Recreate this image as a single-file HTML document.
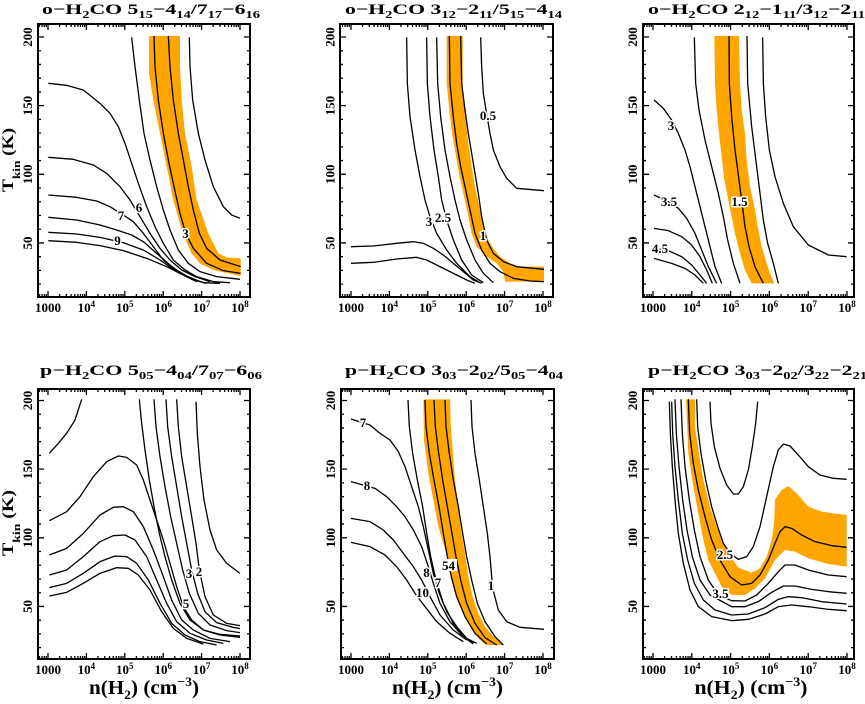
<!DOCTYPE html>
<html><head><meta charset="utf-8"><style>
html,body{margin:0;padding:0;background:#fff;}
svg{display:block;}
text{font-family:"Liberation Serif",serif;font-weight:bold;fill:#000;}
.t{font-size:15px;}
.s{font-size:10px;}
.tk{font-size:13px;}
.lb{font-size:13px;paint-order:stroke;stroke:#fff;stroke-width:3px;stroke-linejoin:round;}
.cv polyline{fill:none;stroke:#000;stroke-width:1.3;vector-effect:non-scaling-stroke;stroke-linejoin:round;}
.band{fill:#FFA500;stroke:none;}
.tx{fill:none;stroke:#000;stroke-width:1.3;}
</style></head><body>
<svg width="865" height="704" viewBox="0 0 865 704" xmlns="http://www.w3.org/2000/svg">

<!-- ================= PANEL 1 ================= -->
<g class="cv" transform="translate(0,0) scale(0.333333)">
<polygon class="band" points="447,108 447,220 460,300 480,400 500,500 520,600 548,700 575,760 600,790 640,810 722,828 722,775 680,772 655,760 625,700 590,600 575,500 555,400 545,300 540,200 540,108"/>
<polyline points="462,108 465,200 475,300 490,400 505,480 522,560 540,640 557,700 580,745 620,790 670,812 722,820"/>
<polyline points="505,108 510,200 520,300 535,400 550,480 565,560 580,630 598,700 620,745 660,780 722,800"/>
<polyline points="395,112 405,200 418,300 432,400 450,480 470,560 490,630 510,690 535,750 565,790 600,815 650,830 720,838"/>
<polyline points="568,112 570,200 578,300 595,400 615,480 640,560 670,620 695,645 720,655"/>
<polyline points="145,250 200,256 250,270 300,310 330,340 355,380 375,430 395,490 415,550 440,620 465,680 490,730 520,780 555,810 590,830 640,845 690,848"/>
<polyline points="145,472 220,478 280,495 320,520 360,560 390,600 420,650 450,700 480,745 510,780 545,810 585,830 630,845"/>
<polyline points="145,585 230,592 290,603 330,620 370,645 400,665 430,700 460,740 490,780 520,805 560,828 600,845"/>
<polyline points="145,652 230,660 300,675 350,690 395,705 430,725 470,760 510,795 550,825 590,845"/>
<polyline points="145,697 230,702 300,712 370,728 430,750 480,780 530,815 580,840 620,850"/>
<polyline points="145,722 230,727 300,737 370,752 440,775 500,800 560,830 610,848 660,850"/>
</g>
<text class="lb" x="139" y="212" text-anchor="middle">6</text>
<text class="lb" x="121" y="220" text-anchor="middle">7</text>
<text class="lb" x="117.5" y="245" text-anchor="middle">9</text>
<text class="lb" x="185.5" y="238" text-anchor="middle">3</text>
<path class="tx" transform="translate(48,297)" d="M-8.52 0v-3M-5.95 0v-3M-3.72 0v-3M-1.76 0v-3M0 0v-6M11.56 0v-3M18.32 0v-3M23.12 0v-3M26.84 0v-3M29.88 0v-3M32.45 0v-3M34.68 0v-3M36.64 0v-3M38.4 0v-6M49.96 0v-3M56.72 0v-3M61.52 0v-3M65.24 0v-3M68.28 0v-3M70.85 0v-3M73.08 0v-3M75.04 0v-3M76.8 0v-6M88.36 0v-3M95.12 0v-3M99.92 0v-3M103.64 0v-3M106.68 0v-3M109.25 0v-3M111.48 0v-3M113.44 0v-3M115.2 0v-6M126.76 0v-3M133.52 0v-3M138.32 0v-3M142.04 0v-3M145.08 0v-3M147.65 0v-3M149.88 0v-3M151.84 0v-3M153.6 0v-6M165.16 0v-3M171.92 0v-3M176.72 0v-3M180.44 0v-3M183.48 0v-3M186.05 0v-3M188.28 0v-3M190.24 0v-3M192 0v-6"/>
<path class="tx" transform="translate(48,24) scale(1,-1)" d="M-8.52 0v-3M-5.95 0v-3M-3.72 0v-3M-1.76 0v-3M0 0v-6M11.56 0v-3M18.32 0v-3M23.12 0v-3M26.84 0v-3M29.88 0v-3M32.45 0v-3M34.68 0v-3M36.64 0v-3M38.4 0v-6M49.96 0v-3M56.72 0v-3M61.52 0v-3M65.24 0v-3M68.28 0v-3M70.85 0v-3M73.08 0v-3M75.04 0v-3M76.8 0v-6M88.36 0v-3M95.12 0v-3M99.92 0v-3M103.64 0v-3M106.68 0v-3M109.25 0v-3M111.48 0v-3M113.44 0v-3M115.2 0v-6M126.76 0v-3M133.52 0v-3M138.32 0v-3M142.04 0v-3M145.08 0v-3M147.65 0v-3M149.88 0v-3M151.84 0v-3M153.6 0v-6M165.16 0v-3M171.92 0v-3M176.72 0v-3M180.44 0v-3M183.48 0v-3M186.05 0v-3M188.28 0v-3M190.24 0v-3M192 0v-6"/>
<path class="tx" transform="translate(38,37)" d="M0 0h6M0 13.73h3M0 27.46h3M0 41.19h3M0 54.92h3M0 68.65h6M0 82.38h3M0 96.11h3M0 109.84h3M0 123.57h3M0 137.3h6M0 151.03h3M0 164.76h3M0 178.49h3M0 192.22h3M0 205.95h6M0 219.68h3M0 233.41h3M0 247.14h3"/>
<path class="tx" transform="translate(250,37) scale(-1,1)" d="M0 0h6M0 13.73h3M0 27.46h3M0 41.19h3M0 54.92h3M0 68.65h6M0 82.38h3M0 96.11h3M0 109.84h3M0 123.57h3M0 137.3h6M0 151.03h3M0 164.76h3M0 178.49h3M0 192.22h3M0 205.95h6M0 219.68h3M0 233.41h3M0 247.14h3"/>
<rect x="38" y="24" width="212" height="273" fill="none" stroke="#000" stroke-width="2"/>
<text class="t" x="42" y="14" textLength="218" lengthAdjust="spacingAndGlyphs">o−H<tspan class="s" dy="4">2</tspan><tspan dy="-4">CO 5</tspan><tspan class="s" dy="4">15</tspan><tspan dy="-4">−4</tspan><tspan class="s" dy="4">14</tspan><tspan dy="-4">/7</tspan><tspan class="s" dy="4">17</tspan><tspan dy="-4">−6</tspan><tspan class="s" dy="4">16</tspan></text>
<text class="tk" x="48" y="312" text-anchor="middle">1000</text>
<text class="tk" x="86.4" y="312" text-anchor="middle">10<tspan dy="-5" font-size="9">4</tspan></text>
<text class="tk" x="124.8" y="312" text-anchor="middle">10<tspan dy="-5" font-size="9">5</tspan></text>
<text class="tk" x="163.2" y="312" text-anchor="middle">10<tspan dy="-5" font-size="9">6</tspan></text>
<text class="tk" x="201.6" y="312" text-anchor="middle">10<tspan dy="-5" font-size="9">7</tspan></text>
<text class="tk" x="240" y="312" text-anchor="middle">10<tspan dy="-5" font-size="9">8</tspan></text>
<text class="tk" transform="translate(32,37) rotate(-90)" text-anchor="middle">200</text>
<text class="tk" transform="translate(32,105.6) rotate(-90)" text-anchor="middle">150</text>
<text class="tk" transform="translate(32,174.3) rotate(-90)" text-anchor="middle">100</text>
<text class="tk" transform="translate(32,243) rotate(-90)" text-anchor="middle">50</text>
<text transform="translate(13,160) rotate(-90)" text-anchor="middle" font-size="16" textLength="64" lengthAdjust="spacingAndGlyphs">T<tspan dy="7" font-size="11">kin</tspan><tspan dy="-7"> (K)</tspan></text>

<!-- ================= PANEL 2 ================= -->
<g class="cv" transform="translate(290,0) scale(0.333333)">
<polygon class="band" points="470,108 470,250 478,330 486,400 495,450 505,510 520,580 535,650 545,700 560,740 590,770 620,790 640,815 645,845 762,845 762,800 690,800 660,790 630,770 610,745 595,720 580,680 570,630 555,560 545,500 535,430 528,360 520,300 518,250 518,108"/>
<polyline points="478,108 480,250 490,350 500,430 512,500 525,560 540,630 555,700 575,750 600,790 630,815 670,835 720,843 762,845"/>
<polyline points="512,108 515,250 525,330 535,400 545,460 555,520 565,580 575,650 590,720 610,760 640,785 680,800 762,808"/>
<polyline points="572,112 575,200 580,280 588,330 600,400 610,450 630,500 650,535 680,565 762,572"/>
<polyline points="350,112 352,250 360,350 375,450 390,530 405,600 420,650 440,700 470,750 500,790 540,830 570,848"/>
<polyline points="410,112 412,250 420,350 432,450 445,530 455,600 470,660 490,720 515,780 545,825 580,848"/>
<polyline points="440,112 443,250 452,350 465,450 480,530 495,600 510,660 530,720 555,780 580,820 610,848"/>
<polyline points="183,740 250,738 320,730 370,725 400,730 430,745 460,765 490,790 520,815 550,840 575,850"/>
<polyline points="183,790 250,787 320,777 380,772 410,780 440,795 470,810 500,825 530,840 555,850"/>
</g>
<text class="lb" x="488" y="120" text-anchor="middle">0.5</text>
<text class="lb" x="429" y="226" text-anchor="middle">3</text>
<text class="lb" x="443" y="222" text-anchor="middle">2.5</text>
<text class="lb" x="483" y="240" text-anchor="middle">1</text>
<path class="tx" transform="translate(351,297)" d="M-8.52 0v-3M-5.95 0v-3M-3.72 0v-3M-1.76 0v-3M0 0v-6M11.56 0v-3M18.32 0v-3M23.12 0v-3M26.84 0v-3M29.88 0v-3M32.45 0v-3M34.68 0v-3M36.64 0v-3M38.4 0v-6M49.96 0v-3M56.72 0v-3M61.52 0v-3M65.24 0v-3M68.28 0v-3M70.85 0v-3M73.08 0v-3M75.04 0v-3M76.8 0v-6M88.36 0v-3M95.12 0v-3M99.92 0v-3M103.64 0v-3M106.68 0v-3M109.25 0v-3M111.48 0v-3M113.44 0v-3M115.2 0v-6M126.76 0v-3M133.52 0v-3M138.32 0v-3M142.04 0v-3M145.08 0v-3M147.65 0v-3M149.88 0v-3M151.84 0v-3M153.6 0v-6M165.16 0v-3M171.92 0v-3M176.72 0v-3M180.44 0v-3M183.48 0v-3M186.05 0v-3M188.28 0v-3M190.24 0v-3M192 0v-6"/>
<path class="tx" transform="translate(351,24) scale(1,-1)" d="M-8.52 0v-3M-5.95 0v-3M-3.72 0v-3M-1.76 0v-3M0 0v-6M11.56 0v-3M18.32 0v-3M23.12 0v-3M26.84 0v-3M29.88 0v-3M32.45 0v-3M34.68 0v-3M36.64 0v-3M38.4 0v-6M49.96 0v-3M56.72 0v-3M61.52 0v-3M65.24 0v-3M68.28 0v-3M70.85 0v-3M73.08 0v-3M75.04 0v-3M76.8 0v-6M88.36 0v-3M95.12 0v-3M99.92 0v-3M103.64 0v-3M106.68 0v-3M109.25 0v-3M111.48 0v-3M113.44 0v-3M115.2 0v-6M126.76 0v-3M133.52 0v-3M138.32 0v-3M142.04 0v-3M145.08 0v-3M147.65 0v-3M149.88 0v-3M151.84 0v-3M153.6 0v-6M165.16 0v-3M171.92 0v-3M176.72 0v-3M180.44 0v-3M183.48 0v-3M186.05 0v-3M188.28 0v-3M190.24 0v-3M192 0v-6"/>
<path class="tx" transform="translate(340,37)" d="M0 0h6M0 13.73h3M0 27.46h3M0 41.19h3M0 54.92h3M0 68.65h6M0 82.38h3M0 96.11h3M0 109.84h3M0 123.57h3M0 137.3h6M0 151.03h3M0 164.76h3M0 178.49h3M0 192.22h3M0 205.95h6M0 219.68h3M0 233.41h3M0 247.14h3"/>
<path class="tx" transform="translate(553,37) scale(-1,1)" d="M0 0h6M0 13.73h3M0 27.46h3M0 41.19h3M0 54.92h3M0 68.65h6M0 82.38h3M0 96.11h3M0 109.84h3M0 123.57h3M0 137.3h6M0 151.03h3M0 164.76h3M0 178.49h3M0 192.22h3M0 205.95h6M0 219.68h3M0 233.41h3M0 247.14h3"/>
<rect x="340" y="24" width="213" height="273" fill="none" stroke="#000" stroke-width="2"/>
<text class="t" x="345" y="14" textLength="217" lengthAdjust="spacingAndGlyphs">o−H<tspan class="s" dy="4">2</tspan><tspan dy="-4">CO 3</tspan><tspan class="s" dy="4">12</tspan><tspan dy="-4">−2</tspan><tspan class="s" dy="4">11</tspan><tspan dy="-4">/5</tspan><tspan class="s" dy="4">15</tspan><tspan dy="-4">−4</tspan><tspan class="s" dy="4">14</tspan></text>
<text class="tk" x="351" y="312" text-anchor="middle">1000</text>
<text class="tk" x="389.4" y="312" text-anchor="middle">10<tspan dy="-5" font-size="9">4</tspan></text>
<text class="tk" x="427.8" y="312" text-anchor="middle">10<tspan dy="-5" font-size="9">5</tspan></text>
<text class="tk" x="466.2" y="312" text-anchor="middle">10<tspan dy="-5" font-size="9">6</tspan></text>
<text class="tk" x="504.6" y="312" text-anchor="middle">10<tspan dy="-5" font-size="9">7</tspan></text>
<text class="tk" x="543" y="312" text-anchor="middle">10<tspan dy="-5" font-size="9">8</tspan></text>
<text class="tk" transform="translate(334.5,37) rotate(-90)" text-anchor="middle">200</text>
<text class="tk" transform="translate(334.5,105.6) rotate(-90)" text-anchor="middle">150</text>
<text class="tk" transform="translate(334.5,174.3) rotate(-90)" text-anchor="middle">100</text>
<text class="tk" transform="translate(334.5,243) rotate(-90)" text-anchor="middle">50</text>

<!-- ================= PANEL 3 ================= -->
<g class="cv" transform="translate(575,0) scale(0.333333)">
<polygon class="band" points="418,108 420,250 425,330 432,400 440,470 448,540 460,600 470,650 480,700 495,760 510,810 530,850 598,850 585,820 575,790 560,740 548,680 540,630 525,560 515,480 510,400 500,330 495,250 492,108"/>
<polyline points="462,108 463,250 470,350 480,450 492,540 500,600 510,680 522,740 540,800 565,850"/>
<polyline points="516,108 518,250 530,380 545,500 555,580 565,660 578,730 595,790 610,850"/>
<polyline points="358,112 362,250 372,330 390,420 410,500 430,580 445,650 458,720 475,790 495,850"/>
<polyline points="563,112 565,250 572,350 583,450 600,530 625,610 655,680 700,735 760,765 815,770"/>
<polyline points="237,300 265,325 290,360 310,400 330,450 345,500 360,560 375,620 390,680 405,740 420,800 440,850"/>
<polyline points="237,585 280,605 310,625 335,655 360,700 380,750 400,800 425,850"/>
<polyline points="237,685 280,692 320,710 350,735 375,770 395,810 412,850"/>
<polyline points="237,745 280,752 320,770 350,795 375,825 395,850"/>
<polyline points="237,775 290,790 330,805 360,825 385,850"/>
</g>
<rect x="731" y="197" width="17" height="10" fill="#fff"/>
<text class="lb" x="671" y="130" text-anchor="middle">3</text>
<text class="lb" x="669" y="206" text-anchor="middle">3.5</text>
<text class="lb" x="660" y="253" text-anchor="middle">4.5</text>
<text class="lb" x="739.5" y="206" text-anchor="middle">1.5</text>
<path class="tx" transform="translate(653,297) scale(1.0104,1)" d="M-8.52 0v-3M-5.95 0v-3M-3.72 0v-3M-1.76 0v-3M0 0v-6M11.56 0v-3M18.32 0v-3M23.12 0v-3M26.84 0v-3M29.88 0v-3M32.45 0v-3M34.68 0v-3M36.64 0v-3M38.4 0v-6M49.96 0v-3M56.72 0v-3M61.52 0v-3M65.24 0v-3M68.28 0v-3M70.85 0v-3M73.08 0v-3M75.04 0v-3M76.8 0v-6M88.36 0v-3M95.12 0v-3M99.92 0v-3M103.64 0v-3M106.68 0v-3M109.25 0v-3M111.48 0v-3M113.44 0v-3M115.2 0v-6M126.76 0v-3M133.52 0v-3M138.32 0v-3M142.04 0v-3M145.08 0v-3M147.65 0v-3M149.88 0v-3M151.84 0v-3M153.6 0v-6M165.16 0v-3M171.92 0v-3M176.72 0v-3M180.44 0v-3M183.48 0v-3M186.05 0v-3M188.28 0v-3M190.24 0v-3M192 0v-6"/>
<path class="tx" transform="translate(653,24) scale(1.0104,-1)" d="M-8.52 0v-3M-5.95 0v-3M-3.72 0v-3M-1.76 0v-3M0 0v-6M11.56 0v-3M18.32 0v-3M23.12 0v-3M26.84 0v-3M29.88 0v-3M32.45 0v-3M34.68 0v-3M36.64 0v-3M38.4 0v-6M49.96 0v-3M56.72 0v-3M61.52 0v-3M65.24 0v-3M68.28 0v-3M70.85 0v-3M73.08 0v-3M75.04 0v-3M76.8 0v-6M88.36 0v-3M95.12 0v-3M99.92 0v-3M103.64 0v-3M106.68 0v-3M109.25 0v-3M111.48 0v-3M113.44 0v-3M115.2 0v-6M126.76 0v-3M133.52 0v-3M138.32 0v-3M142.04 0v-3M145.08 0v-3M147.65 0v-3M149.88 0v-3M151.84 0v-3M153.6 0v-6M165.16 0v-3M171.92 0v-3M176.72 0v-3M180.44 0v-3M183.48 0v-3M186.05 0v-3M188.28 0v-3M190.24 0v-3M192 0v-6"/>
<path class="tx" transform="translate(643,37)" d="M0 0h6M0 13.73h3M0 27.46h3M0 41.19h3M0 54.92h3M0 68.65h6M0 82.38h3M0 96.11h3M0 109.84h3M0 123.57h3M0 137.3h6M0 151.03h3M0 164.76h3M0 178.49h3M0 192.22h3M0 205.95h6M0 219.68h3M0 233.41h3M0 247.14h3"/>
<path class="tx" transform="translate(854,37) scale(-1,1)" d="M0 0h6M0 13.73h3M0 27.46h3M0 41.19h3M0 54.92h3M0 68.65h6M0 82.38h3M0 96.11h3M0 109.84h3M0 123.57h3M0 137.3h6M0 151.03h3M0 164.76h3M0 178.49h3M0 192.22h3M0 205.95h6M0 219.68h3M0 233.41h3M0 247.14h3"/>
<rect x="643" y="24" width="211" height="273" fill="none" stroke="#000" stroke-width="2"/>
<text class="t" x="648" y="14" textLength="217" lengthAdjust="spacingAndGlyphs">o−H<tspan class="s" dy="4">2</tspan><tspan dy="-4">CO 2</tspan><tspan class="s" dy="4">12</tspan><tspan dy="-4">−1</tspan><tspan class="s" dy="4">11</tspan><tspan dy="-4">/3</tspan><tspan class="s" dy="4">12</tspan><tspan dy="-4">−2</tspan><tspan class="s" dy="4">11</tspan></text>
<text class="tk" x="653" y="312" text-anchor="middle">1000</text>
<text class="tk" x="691.8" y="312" text-anchor="middle">10<tspan dy="-5" font-size="9">4</tspan></text>
<text class="tk" x="730.6" y="312" text-anchor="middle">10<tspan dy="-5" font-size="9">5</tspan></text>
<text class="tk" x="769.4" y="312" text-anchor="middle">10<tspan dy="-5" font-size="9">6</tspan></text>
<text class="tk" x="808.2" y="312" text-anchor="middle">10<tspan dy="-5" font-size="9">7</tspan></text>
<text class="tk" x="847" y="312" text-anchor="middle">10<tspan dy="-5" font-size="9">8</tspan></text>
<text class="tk" transform="translate(637,37) rotate(-90)" text-anchor="middle">200</text>
<text class="tk" transform="translate(637,105.6) rotate(-90)" text-anchor="middle">150</text>
<text class="tk" transform="translate(637,174.3) rotate(-90)" text-anchor="middle">100</text>
<text class="tk" transform="translate(637,243) rotate(-90)" text-anchor="middle">50</text>

<!-- ================= PANEL 4 ================= -->
<g class="cv" transform="translate(0,340) scale(0.333333)">
<polyline points="148,340 175,310 200,280 225,240 245,178"/>
<polyline points="148,542 200,515 240,470 280,410 320,365 355,348 380,352 410,375 430,420 450,480 470,540 490,600 510,670 530,740 550,800 575,840 610,870 660,885 720,892"/>
<polyline points="148,645 200,625 250,580 300,525 340,502 370,500 400,515 430,560 460,630 490,710 515,780 545,840 580,870 630,895 690,905"/>
<polyline points="148,705 200,690 250,650 300,605 340,587 375,585 405,600 440,650 470,720 500,790 530,845 570,880 620,900 670,910"/>
<polyline points="148,743 200,730 250,700 300,665 345,648 380,650 410,670 445,720 480,790 515,850 555,885 600,905 650,915"/>
<polyline points="148,768 200,757 250,730 300,700 350,683 385,685 415,705 450,750 485,815 520,865 560,895 610,912"/>
<polyline points="418,178 425,250 435,330 448,420 462,500 478,580 495,650 515,720 540,790 570,840 610,870 660,883 720,888"/>
<polyline points="462,178 468,260 480,350 495,440 512,530 530,610 548,690 568,760 595,820 630,855 680,872 720,878"/>
<polyline points="498,178 503,260 515,350 530,440 545,530 560,610 575,690 593,760 615,815 650,848 700,862 720,866"/>
<polyline points="530,178 535,260 545,350 560,440 575,530 588,610 598,690 615,770 640,825 680,850 720,857"/>
<polyline points="588,185 592,280 600,380 612,480 630,570 650,630 680,670 720,700"/>
</g>
<text class="lb" x="189" y="578" text-anchor="middle">3</text>
<text class="lb" x="199" y="576" text-anchor="middle">2</text>
<text class="lb" x="186" y="608" text-anchor="middle">5</text>
<path class="tx" transform="translate(48,659)" d="M-8.52 0v-3M-5.95 0v-3M-3.72 0v-3M-1.76 0v-3M0 0v-6M11.56 0v-3M18.32 0v-3M23.12 0v-3M26.84 0v-3M29.88 0v-3M32.45 0v-3M34.68 0v-3M36.64 0v-3M38.4 0v-6M49.96 0v-3M56.72 0v-3M61.52 0v-3M65.24 0v-3M68.28 0v-3M70.85 0v-3M73.08 0v-3M75.04 0v-3M76.8 0v-6M88.36 0v-3M95.12 0v-3M99.92 0v-3M103.64 0v-3M106.68 0v-3M109.25 0v-3M111.48 0v-3M113.44 0v-3M115.2 0v-6M126.76 0v-3M133.52 0v-3M138.32 0v-3M142.04 0v-3M145.08 0v-3M147.65 0v-3M149.88 0v-3M151.84 0v-3M153.6 0v-6M165.16 0v-3M171.92 0v-3M176.72 0v-3M180.44 0v-3M183.48 0v-3M186.05 0v-3M188.28 0v-3M190.24 0v-3M192 0v-6"/>
<path class="tx" transform="translate(48,389) scale(1,-1)" d="M-8.52 0v-3M-5.95 0v-3M-3.72 0v-3M-1.76 0v-3M0 0v-6M11.56 0v-3M18.32 0v-3M23.12 0v-3M26.84 0v-3M29.88 0v-3M32.45 0v-3M34.68 0v-3M36.64 0v-3M38.4 0v-6M49.96 0v-3M56.72 0v-3M61.52 0v-3M65.24 0v-3M68.28 0v-3M70.85 0v-3M73.08 0v-3M75.04 0v-3M76.8 0v-6M88.36 0v-3M95.12 0v-3M99.92 0v-3M103.64 0v-3M106.68 0v-3M109.25 0v-3M111.48 0v-3M113.44 0v-3M115.2 0v-6M126.76 0v-3M133.52 0v-3M138.32 0v-3M142.04 0v-3M145.08 0v-3M147.65 0v-3M149.88 0v-3M151.84 0v-3M153.6 0v-6M165.16 0v-3M171.92 0v-3M176.72 0v-3M180.44 0v-3M183.48 0v-3M186.05 0v-3M188.28 0v-3M190.24 0v-3M192 0v-6"/>
<path class="tx" transform="translate(38,400.5)" d="M0 0h6M0 13.73h3M0 27.46h3M0 41.19h3M0 54.92h3M0 68.65h6M0 82.38h3M0 96.11h3M0 109.84h3M0 123.57h3M0 137.3h6M0 151.03h3M0 164.76h3M0 178.49h3M0 192.22h3M0 205.95h6M0 219.68h3M0 233.41h3M0 247.14h3"/>
<path class="tx" transform="translate(250,400.5) scale(-1,1)" d="M0 0h6M0 13.73h3M0 27.46h3M0 41.19h3M0 54.92h3M0 68.65h6M0 82.38h3M0 96.11h3M0 109.84h3M0 123.57h3M0 137.3h6M0 151.03h3M0 164.76h3M0 178.49h3M0 192.22h3M0 205.95h6M0 219.68h3M0 233.41h3M0 247.14h3"/>
<rect x="38" y="389" width="212" height="270" fill="none" stroke="#000" stroke-width="2"/>
<text class="t" x="40" y="375" textLength="222" lengthAdjust="spacingAndGlyphs">p−H<tspan class="s" dy="4">2</tspan><tspan dy="-4">CO 5</tspan><tspan class="s" dy="4">05</tspan><tspan dy="-4">−4</tspan><tspan class="s" dy="4">04</tspan><tspan dy="-4">/7</tspan><tspan class="s" dy="4">07</tspan><tspan dy="-4">−6</tspan><tspan class="s" dy="4">06</tspan></text>
<text class="tk" x="48" y="674" text-anchor="middle">1000</text>
<text class="tk" x="86.4" y="674" text-anchor="middle">10<tspan dy="-5" font-size="9">4</tspan></text>
<text class="tk" x="124.8" y="674" text-anchor="middle">10<tspan dy="-5" font-size="9">5</tspan></text>
<text class="tk" x="163.2" y="674" text-anchor="middle">10<tspan dy="-5" font-size="9">6</tspan></text>
<text class="tk" x="201.6" y="674" text-anchor="middle">10<tspan dy="-5" font-size="9">7</tspan></text>
<text class="tk" x="240" y="674" text-anchor="middle">10<tspan dy="-5" font-size="9">8</tspan></text>
<text class="tk" transform="translate(32,400.5) rotate(-90)" text-anchor="middle">200</text>
<text class="tk" transform="translate(32,469.2) rotate(-90)" text-anchor="middle">150</text>
<text class="tk" transform="translate(32,537.8) rotate(-90)" text-anchor="middle">100</text>
<text class="tk" transform="translate(32,606.5) rotate(-90)" text-anchor="middle">50</text>
<text transform="translate(13,523) rotate(-90)" text-anchor="middle" font-size="16" textLength="66" lengthAdjust="spacingAndGlyphs">T<tspan dy="7" font-size="11">kin</tspan><tspan dy="-7"> (K)</tspan></text>
<text x="144" y="694" text-anchor="middle" font-size="20" textLength="110" lengthAdjust="spacingAndGlyphs">n(H<tspan dy="5" font-size="13">2</tspan><tspan dy="-5">) (cm</tspan><tspan dy="-8" font-size="13">−3</tspan><tspan dy="8">)</tspan></text>

<!-- ================= PANEL 5 ================= -->
<g class="cv" transform="translate(290,340) scale(0.333333)">
<polygon class="band" points="400,178 402,300 415,400 430,480 445,560 460,610 475,665 480,700 495,760 515,810 540,860 570,900 590,915 640,915 610,890 585,860 565,820 548,770 535,710 525,640 515,580 505,500 495,420 488,330 482,250 480,178"/>
<polyline points="354,180 358,260 368,340 382,420 398,500 410,580 422,650 438,720 460,790 490,850 520,890 550,912"/>
<polyline points="405,180 408,260 418,340 432,420 447,500 460,580 472,650 484,710 500,770 525,830 555,880 590,912"/>
<polyline points="432,180 436,260 446,340 458,420 472,500 486,580 498,650 512,720 530,790 555,850 585,893 620,915"/>
<polyline points="465,180 468,260 478,340 490,420 505,500 518,580 530,650 545,720 562,790 585,845 615,890 640,915"/>
<polyline points="543,180 546,260 555,340 568,420 580,500 592,580 600,650 605,710 612,760 625,810 650,845 690,862 762,868"/>
<polyline points="183,237 240,255 270,280 300,300 325,335 345,380 365,440 385,500 400,560 415,630 430,700 448,760 470,815 500,860 530,895 560,910"/>
<polyline points="183,425 255,445 290,470 320,500 345,530 370,570 395,620 415,680 430,730 450,790 480,845 515,885 550,910"/>
<polyline points="183,535 240,545 280,570 310,600 340,640 370,680 395,720 420,770 450,825 490,870 530,900"/>
<polyline points="183,607 240,620 285,645 320,680 350,720 375,760 405,800 440,845 480,880 520,905"/>
</g>
<rect x="441" y="559" width="16" height="12" fill="#fff"/>
<text class="lb" x="363" y="427" text-anchor="middle">7</text>
<text class="lb" x="367" y="490" text-anchor="middle">8</text>
<text class="lb" x="426.5" y="577" text-anchor="middle">8</text>
<text class="lb" x="438" y="587" text-anchor="middle">7</text>
<text class="lb" x="422.5" y="597" text-anchor="middle">10</text>
<text class="lb" x="448.5" y="570" text-anchor="middle">54</text>
<text class="lb" x="491" y="590" text-anchor="middle">1</text>
<path class="tx" transform="translate(351,659)" d="M-8.52 0v-3M-5.95 0v-3M-3.72 0v-3M-1.76 0v-3M0 0v-6M11.56 0v-3M18.32 0v-3M23.12 0v-3M26.84 0v-3M29.88 0v-3M32.45 0v-3M34.68 0v-3M36.64 0v-3M38.4 0v-6M49.96 0v-3M56.72 0v-3M61.52 0v-3M65.24 0v-3M68.28 0v-3M70.85 0v-3M73.08 0v-3M75.04 0v-3M76.8 0v-6M88.36 0v-3M95.12 0v-3M99.92 0v-3M103.64 0v-3M106.68 0v-3M109.25 0v-3M111.48 0v-3M113.44 0v-3M115.2 0v-6M126.76 0v-3M133.52 0v-3M138.32 0v-3M142.04 0v-3M145.08 0v-3M147.65 0v-3M149.88 0v-3M151.84 0v-3M153.6 0v-6M165.16 0v-3M171.92 0v-3M176.72 0v-3M180.44 0v-3M183.48 0v-3M186.05 0v-3M188.28 0v-3M190.24 0v-3M192 0v-6"/>
<path class="tx" transform="translate(351,389) scale(1,-1)" d="M-8.52 0v-3M-5.95 0v-3M-3.72 0v-3M-1.76 0v-3M0 0v-6M11.56 0v-3M18.32 0v-3M23.12 0v-3M26.84 0v-3M29.88 0v-3M32.45 0v-3M34.68 0v-3M36.64 0v-3M38.4 0v-6M49.96 0v-3M56.72 0v-3M61.52 0v-3M65.24 0v-3M68.28 0v-3M70.85 0v-3M73.08 0v-3M75.04 0v-3M76.8 0v-6M88.36 0v-3M95.12 0v-3M99.92 0v-3M103.64 0v-3M106.68 0v-3M109.25 0v-3M111.48 0v-3M113.44 0v-3M115.2 0v-6M126.76 0v-3M133.52 0v-3M138.32 0v-3M142.04 0v-3M145.08 0v-3M147.65 0v-3M149.88 0v-3M151.84 0v-3M153.6 0v-6M165.16 0v-3M171.92 0v-3M176.72 0v-3M180.44 0v-3M183.48 0v-3M186.05 0v-3M188.28 0v-3M190.24 0v-3M192 0v-6"/>
<path class="tx" transform="translate(341,400.5)" d="M0 0h6M0 13.73h3M0 27.46h3M0 41.19h3M0 54.92h3M0 68.65h6M0 82.38h3M0 96.11h3M0 109.84h3M0 123.57h3M0 137.3h6M0 151.03h3M0 164.76h3M0 178.49h3M0 192.22h3M0 205.95h6M0 219.68h3M0 233.41h3M0 247.14h3"/>
<path class="tx" transform="translate(554,400.5) scale(-1,1)" d="M0 0h6M0 13.73h3M0 27.46h3M0 41.19h3M0 54.92h3M0 68.65h6M0 82.38h3M0 96.11h3M0 109.84h3M0 123.57h3M0 137.3h6M0 151.03h3M0 164.76h3M0 178.49h3M0 192.22h3M0 205.95h6M0 219.68h3M0 233.41h3M0 247.14h3"/>
<rect x="341" y="389" width="213" height="270" fill="none" stroke="#000" stroke-width="2"/>
<text class="t" x="345" y="375" textLength="218" lengthAdjust="spacingAndGlyphs">p−H<tspan class="s" dy="4">2</tspan><tspan dy="-4">CO 3</tspan><tspan class="s" dy="4">03</tspan><tspan dy="-4">−2</tspan><tspan class="s" dy="4">02</tspan><tspan dy="-4">/5</tspan><tspan class="s" dy="4">05</tspan><tspan dy="-4">−4</tspan><tspan class="s" dy="4">04</tspan></text>
<text class="tk" x="351" y="674" text-anchor="middle">1000</text>
<text class="tk" x="389.4" y="674" text-anchor="middle">10<tspan dy="-5" font-size="9">4</tspan></text>
<text class="tk" x="427.8" y="674" text-anchor="middle">10<tspan dy="-5" font-size="9">5</tspan></text>
<text class="tk" x="466.2" y="674" text-anchor="middle">10<tspan dy="-5" font-size="9">6</tspan></text>
<text class="tk" x="504.6" y="674" text-anchor="middle">10<tspan dy="-5" font-size="9">7</tspan></text>
<text class="tk" x="543" y="674" text-anchor="middle">10<tspan dy="-5" font-size="9">8</tspan></text>
<text class="tk" transform="translate(335,400.5) rotate(-90)" text-anchor="middle">200</text>
<text class="tk" transform="translate(335,469.2) rotate(-90)" text-anchor="middle">150</text>
<text class="tk" transform="translate(335,537.8) rotate(-90)" text-anchor="middle">100</text>
<text class="tk" transform="translate(335,606.5) rotate(-90)" text-anchor="middle">50</text>
<text x="447.5" y="694" text-anchor="middle" font-size="20" textLength="111" lengthAdjust="spacingAndGlyphs">n(H<tspan dy="5" font-size="13">2</tspan><tspan dy="-5">) (cm</tspan><tspan dy="-8" font-size="13">−3</tspan><tspan dy="8">)</tspan></text>

<!-- ================= PANEL 6 ================= -->
<g class="cv" transform="translate(575,340) scale(0.333333)">
<polygon class="band" points="360,178 360,260 372,340 385,420 405,500 425,560 440,600 460,640 490,683 530,698 555,685 575,650 590,600 598,540 600,478 620,450 640,438 665,460 700,500 740,515 775,520 815,525 815,680 760,672 700,655 660,635 630,630 600,660 570,715 540,745 510,765 470,765 440,740 420,700 400,660 385,600 370,520 355,440 340,340 333,178"/>
<polyline points="405,185 408,250 418,320 435,385 455,435 475,462 490,462 505,440 520,390 532,320 542,250 548,185"/>
<polyline points="365,178 368,260 378,340 392,420 410,500 428,560 445,610 465,640 490,658 515,650 535,620 555,560 575,470 595,380 610,330 625,312 645,318 670,345 700,380 735,405 775,415 815,418"/>
<polyline points="340,178 344,280 355,370 370,450 390,530 410,600 435,660 465,710 500,735 530,730 555,705 580,660 600,610 615,575 630,560 650,565 680,585 720,605 770,617 815,622"/>
<polyline points="318,178 322,280 330,380 343,480 358,570 375,650 400,720 430,765 470,782 510,783 545,765 580,730 610,695 630,675 660,675 700,690 760,705 815,710"/>
<polyline points="300,178 304,280 312,380 323,480 336,570 352,650 375,720 405,765 470,800 510,800 550,785 590,757 625,738 660,738 710,748 760,755 815,760"/>
<polyline points="290,185 293,280 300,380 310,480 322,580 338,660 358,730 385,780 420,810 470,825 520,822 570,803 610,778 640,770 680,773 740,785 815,792"/>
<polyline points="283,185 286,280 292,380 300,480 310,580 325,670 345,750 370,800 410,830 470,842 520,838 570,822 610,800 650,795 700,800 760,808 815,812"/>
</g>
<text class="lb" x="725" y="559" text-anchor="middle">2.5</text>
<text class="lb" x="720.5" y="598" text-anchor="middle">3.5</text>
<path class="tx" transform="translate(653,659) scale(1.0104,1)" d="M-8.52 0v-3M-5.95 0v-3M-3.72 0v-3M-1.76 0v-3M0 0v-6M11.56 0v-3M18.32 0v-3M23.12 0v-3M26.84 0v-3M29.88 0v-3M32.45 0v-3M34.68 0v-3M36.64 0v-3M38.4 0v-6M49.96 0v-3M56.72 0v-3M61.52 0v-3M65.24 0v-3M68.28 0v-3M70.85 0v-3M73.08 0v-3M75.04 0v-3M76.8 0v-6M88.36 0v-3M95.12 0v-3M99.92 0v-3M103.64 0v-3M106.68 0v-3M109.25 0v-3M111.48 0v-3M113.44 0v-3M115.2 0v-6M126.76 0v-3M133.52 0v-3M138.32 0v-3M142.04 0v-3M145.08 0v-3M147.65 0v-3M149.88 0v-3M151.84 0v-3M153.6 0v-6M165.16 0v-3M171.92 0v-3M176.72 0v-3M180.44 0v-3M183.48 0v-3M186.05 0v-3M188.28 0v-3M190.24 0v-3M192 0v-6"/>
<path class="tx" transform="translate(653,389) scale(1.0104,-1)" d="M-8.52 0v-3M-5.95 0v-3M-3.72 0v-3M-1.76 0v-3M0 0v-6M11.56 0v-3M18.32 0v-3M23.12 0v-3M26.84 0v-3M29.88 0v-3M32.45 0v-3M34.68 0v-3M36.64 0v-3M38.4 0v-6M49.96 0v-3M56.72 0v-3M61.52 0v-3M65.24 0v-3M68.28 0v-3M70.85 0v-3M73.08 0v-3M75.04 0v-3M76.8 0v-6M88.36 0v-3M95.12 0v-3M99.92 0v-3M103.64 0v-3M106.68 0v-3M109.25 0v-3M111.48 0v-3M113.44 0v-3M115.2 0v-6M126.76 0v-3M133.52 0v-3M138.32 0v-3M142.04 0v-3M145.08 0v-3M147.65 0v-3M149.88 0v-3M151.84 0v-3M153.6 0v-6M165.16 0v-3M171.92 0v-3M176.72 0v-3M180.44 0v-3M183.48 0v-3M186.05 0v-3M188.28 0v-3M190.24 0v-3M192 0v-6"/>
<path class="tx" transform="translate(643,400.5)" d="M0 0h6M0 13.73h3M0 27.46h3M0 41.19h3M0 54.92h3M0 68.65h6M0 82.38h3M0 96.11h3M0 109.84h3M0 123.57h3M0 137.3h6M0 151.03h3M0 164.76h3M0 178.49h3M0 192.22h3M0 205.95h6M0 219.68h3M0 233.41h3M0 247.14h3"/>
<path class="tx" transform="translate(854,400.5) scale(-1,1)" d="M0 0h6M0 13.73h3M0 27.46h3M0 41.19h3M0 54.92h3M0 68.65h6M0 82.38h3M0 96.11h3M0 109.84h3M0 123.57h3M0 137.3h6M0 151.03h3M0 164.76h3M0 178.49h3M0 192.22h3M0 205.95h6M0 219.68h3M0 233.41h3M0 247.14h3"/>
<rect x="643" y="389" width="211" height="270" fill="none" stroke="#000" stroke-width="2"/>
<text class="t" x="648" y="375" textLength="219" lengthAdjust="spacingAndGlyphs">p−H<tspan class="s" dy="4">2</tspan><tspan dy="-4">CO 3</tspan><tspan class="s" dy="4">03</tspan><tspan dy="-4">−2</tspan><tspan class="s" dy="4">02</tspan><tspan dy="-4">/3</tspan><tspan class="s" dy="4">22</tspan><tspan dy="-4">−2</tspan><tspan class="s" dy="4">21</tspan></text>
<text class="tk" x="653" y="674" text-anchor="middle">1000</text>
<text class="tk" x="691.8" y="674" text-anchor="middle">10<tspan dy="-5" font-size="9">4</tspan></text>
<text class="tk" x="730.6" y="674" text-anchor="middle">10<tspan dy="-5" font-size="9">5</tspan></text>
<text class="tk" x="769.4" y="674" text-anchor="middle">10<tspan dy="-5" font-size="9">6</tspan></text>
<text class="tk" x="808.2" y="674" text-anchor="middle">10<tspan dy="-5" font-size="9">7</tspan></text>
<text class="tk" x="847" y="674" text-anchor="middle">10<tspan dy="-5" font-size="9">8</tspan></text>
<text class="tk" transform="translate(637,400.5) rotate(-90)" text-anchor="middle">200</text>
<text class="tk" transform="translate(637,469.2) rotate(-90)" text-anchor="middle">150</text>
<text class="tk" transform="translate(637,537.8) rotate(-90)" text-anchor="middle">100</text>
<text class="tk" transform="translate(637,606.5) rotate(-90)" text-anchor="middle">50</text>
<text x="751" y="694" text-anchor="middle" font-size="20" textLength="113" lengthAdjust="spacingAndGlyphs">n(H<tspan dy="5" font-size="13">2</tspan><tspan dy="-5">) (cm</tspan><tspan dy="-8" font-size="13">−3</tspan><tspan dy="8">)</tspan></text>
</svg>
</body></html>
